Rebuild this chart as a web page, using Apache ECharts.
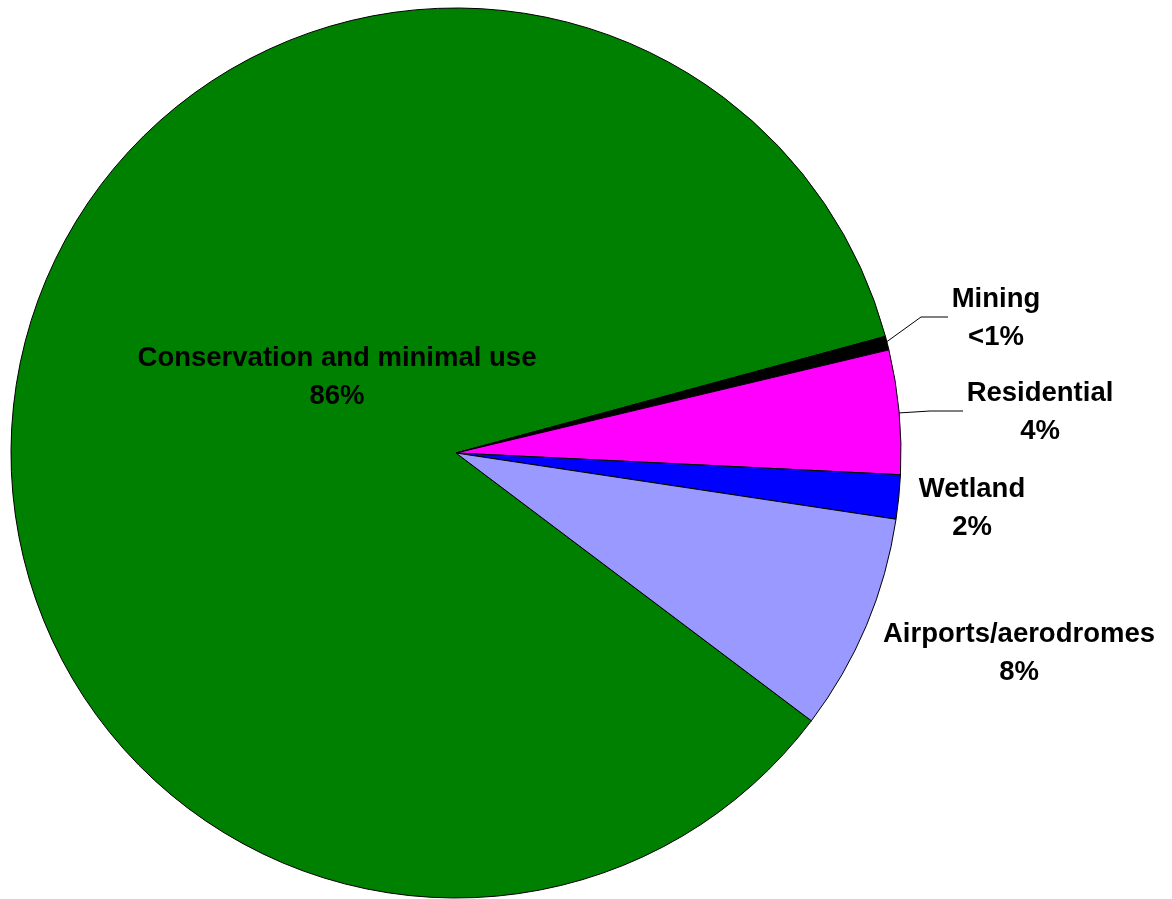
<!DOCTYPE html>
<html>
<head>
<meta charset="utf-8">
<script src="https://cdn.jsdelivr.net/npm/echarts@6/dist/echarts.min.js"></script>
<style>
html,body{margin:0;padding:0;background:#fff;}
#chart{width:1172px;height:899px;}
</style>
</head>
<body>
<div id="chart"></div>
<script>
var categories = ['Conservation and minimal use', 'Mining', 'Residential', 'Wetland', 'Airports/aerodromes'];
var values = [85.5, 0.5, 4.5, 1.6, 7.9];
var percentLabels = ['86%', '<1%', '4%', '2%', '8%'];
var colors = ['#008000', '#000000', '#FF00FF', '#0000FF', '#9999FF'];

// label anchor positions (layout only)
var labelPos = [
  {x: 337, y: 377},
  {x: 996, y: 318},
  {x: 1040, y: 412},
  {x: 972, y: 508},
  {x: 1019, y: 653}
];
var linePts = {
  1: [[885, 343], [921, 317], [948, 317]],
  2: [[898, 413], [930, 411], [963, 411]]
};

var chart = echarts.init(document.getElementById('chart'));
chart.setOption({
  animation: false,
  backgroundColor: '#fff',
  series: [{
    type: 'pie',
    center: [456, 453],
    radius: [0, 445],
    startAngle: 323,
    clockwise: true,
    avoidLabelOverlap: false,
    minAngle: 0,
    data: categories.map(function (c, i) {
      return {
        name: c,
        value: values[i],
        itemStyle: {color: colors[i]},
        labelLine: {show: !!linePts[i]}
      };
    }),
    itemStyle: {borderColor: '#000', borderWidth: 1},
    label: {
      show: true,
      position: 'outside',
      formatter: function (p) { return p.name + '\n' + percentLabels[p.dataIndex]; },
      color: '#000',
      fontFamily: 'Liberation Sans, Arial, sans-serif',
      fontWeight: 'bold',
      fontSize: 27.5,
      lineHeight: 38,
      align: 'center'
    },
    labelLine: {lineStyle: {color: '#000', width: 1}},
    labelLayout: function (params) {
      var i = params.dataIndex;
      var r = {x: labelPos[i].x, y: labelPos[i].y, align: 'center', verticalAlign: 'middle'};
      if (linePts[i]) r.labelLinePoints = linePts[i];
      return r;
    },
    emphasis: {disabled: true}
  }]
});
</script>
</body>
</html>
